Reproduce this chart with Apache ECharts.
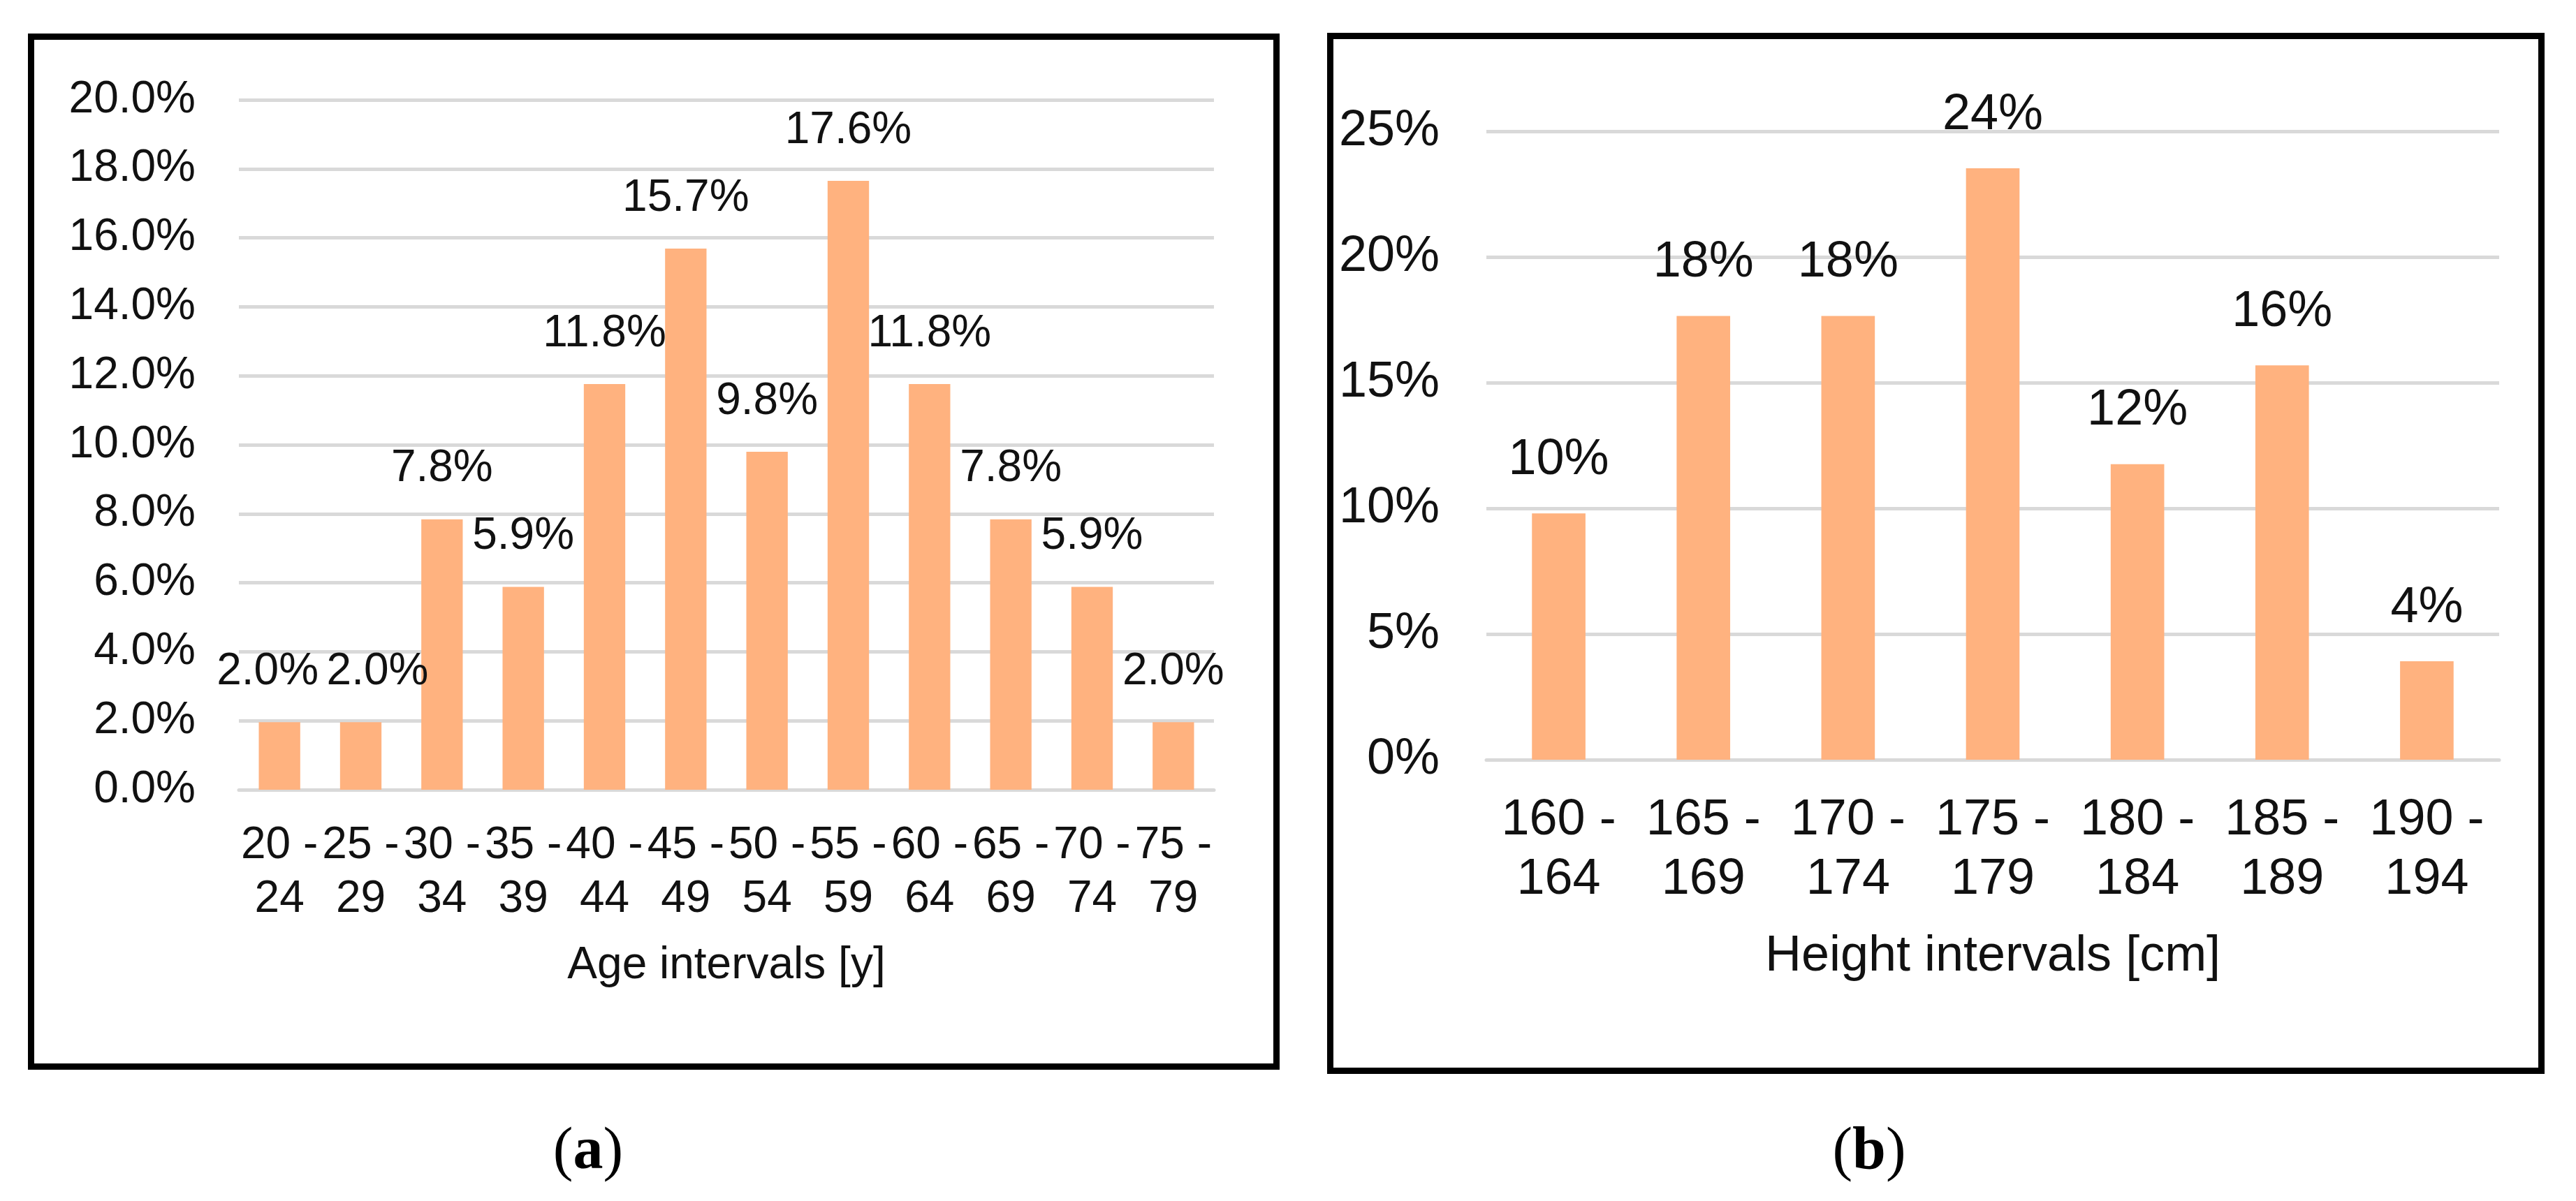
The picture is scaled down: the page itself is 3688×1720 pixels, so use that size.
<!DOCTYPE html>
<html>
<head>
<meta charset="utf-8">
<script src="https://cdn.jsdelivr.net/npm/echarts@6/dist/echarts.min.js"></script>
<style>
html,body{margin:0;padding:0;background:#fff;}
#main{width:3688px;height:1720px;}
</style>
</head>
<body>
<div id="main"></div>
<script>
// Panel (a): age distribution
var ageCategories = ['20 -\n24','25 -\n29','30 -\n34','35 -\n39','40 -\n44','45 -\n49','50 -\n54','55 -\n59','60 -\n64','65 -\n69','70 -\n74','75 -\n79'];
var ageValues = [1.96, 1.96, 7.84, 5.88, 11.76, 15.69, 9.80, 17.65, 11.76, 7.84, 5.88, 1.96];
var ageTicks = {min: 0, max: 20, interval: 2};

// Panel (b): height distribution
var heightCategories = ['160 -\n164','165 -\n169','170 -\n174','175 -\n179','180 -\n184','185 -\n189','190 -\n194'];
var heightValues = [9.80, 17.65, 17.65, 23.53, 11.76, 15.69, 3.92];
var heightTicks = {min: 0, max: 25, interval: 5};

var BAR = '#FFB27F';
var GRID = '#d9d9d9';
var TXT = '#111111';
var FONT = '"Liberation Sans", Arial, sans-serif';

// the two first age labels overlap in the original and are nudged apart
var ageData = ageValues.map(function (v, i) {
  if (i === 0) return {value: v, label: {offset: [-17, 0]}};
  if (i === 1) return {value: v, label: {offset: [24, 0]}};
  return v;
});

var chart = echarts.init(document.getElementById('main'), null, {renderer: 'canvas'});
chart.setOption({
  animation: false,
  backgroundColor: '#ffffff',
  textStyle: {fontFamily: FONT},
  grid: [
    {left: 342, top: 143, width: 1396, height: 988},
    {left: 2128, top: 188, width: 1450, height: 900}
  ],
  xAxis: [
    {
      type: 'category', gridIndex: 0, data: ageCategories,
      axisLine: {show: true, lineStyle: {color: GRID, width: 5}},
      axisTick: {show: false},
      axisLabel: {interval: 0, fontSize: 64, lineHeight: 77, margin: 42, color: TXT, fontFamily: FONT},
      name: 'Age intervals [y]', nameLocation: 'middle', nameGap: 220,
      nameTextStyle: {fontSize: 64, color: TXT, fontFamily: FONT}
    },
    {
      type: 'category', gridIndex: 1, data: heightCategories,
      axisLine: {show: true, lineStyle: {color: GRID, width: 5}},
      axisTick: {show: false},
      axisLabel: {interval: 0, fontSize: 72, lineHeight: 85, margin: 45, color: TXT, fontFamily: FONT},
      name: 'Height intervals [cm]', nameLocation: 'middle', nameGap: 246,
      nameTextStyle: {fontSize: 72, color: TXT, fontFamily: FONT}
    }
  ],
  yAxis: [
    {
      type: 'value', gridIndex: 0, min: ageTicks.min, max: ageTicks.max, interval: ageTicks.interval,
      axisLine: {show: false}, axisTick: {show: false},
      splitLine: {lineStyle: {color: GRID, width: 5}},
      axisLabel: {fontSize: 64, margin: 62, color: TXT, fontFamily: FONT,
        formatter: function (v) { return v.toFixed(1) + '%'; }}
    },
    {
      type: 'value', gridIndex: 1, min: heightTicks.min, max: heightTicks.max, interval: heightTicks.interval,
      axisLine: {show: false}, axisTick: {show: false},
      splitLine: {lineStyle: {color: GRID, width: 5}},
      axisLabel: {fontSize: 72, margin: 67, color: TXT, fontFamily: FONT,
        formatter: function (v) { return v + '%'; }}
    }
  ],
  series: [
    {
      type: 'bar', xAxisIndex: 0, yAxisIndex: 0, data: ageData,
      barCategoryGap: '49%',
      itemStyle: {color: BAR},
      label: {show: true, position: 'top', distance: 40, fontSize: 64, color: TXT, fontFamily: FONT,
        formatter: function (p) { return p.value.toFixed(1) + '%'; }}
    },
    {
      type: 'bar', xAxisIndex: 1, yAxisIndex: 1, data: heightValues,
      barCategoryGap: '63%',
      itemStyle: {color: BAR},
      label: {show: true, position: 'top', distance: 40, fontSize: 72, color: TXT, fontFamily: FONT,
        formatter: function (p) { return Math.round(p.value) + '%'; }}
    }
  ],
  graphic: [
    {type: 'rect', shape: {x: 44.5, y: 52.5, width: 1783, height: 1475},
      style: {fill: 'none', stroke: '#000', lineWidth: 9}, silent: true, z: 100},
    {type: 'rect', shape: {x: 1904.5, y: 51.5, width: 1734, height: 1482},
      style: {fill: 'none', stroke: '#000', lineWidth: 9}, silent: true, z: 100},
    {type: 'text', x: 842, y: 1651, z: 100,
      style: {text: '{p|(}{b|a}{p|)}', align: 'center', verticalAlign: 'middle',
        rich: {p: {fontSize: 86, fontFamily: '"Liberation Serif", "Times New Roman", serif', fill: '#000'},
               b: {fontSize: 86, fontWeight: 'bold', fontFamily: '"Liberation Serif", "Times New Roman", serif', fill: '#000'}}}},
    {type: 'text', x: 2676, y: 1651, z: 100,
      style: {text: '{p|(}{b|b}{p|)}', align: 'center', verticalAlign: 'middle',
        rich: {p: {fontSize: 86, fontFamily: '"Liberation Serif", "Times New Roman", serif', fill: '#000'},
               b: {fontSize: 86, fontWeight: 'bold', fontFamily: '"Liberation Serif", "Times New Roman", serif', fill: '#000'}}}}
  ]
});
</script>
</body>
</html>
